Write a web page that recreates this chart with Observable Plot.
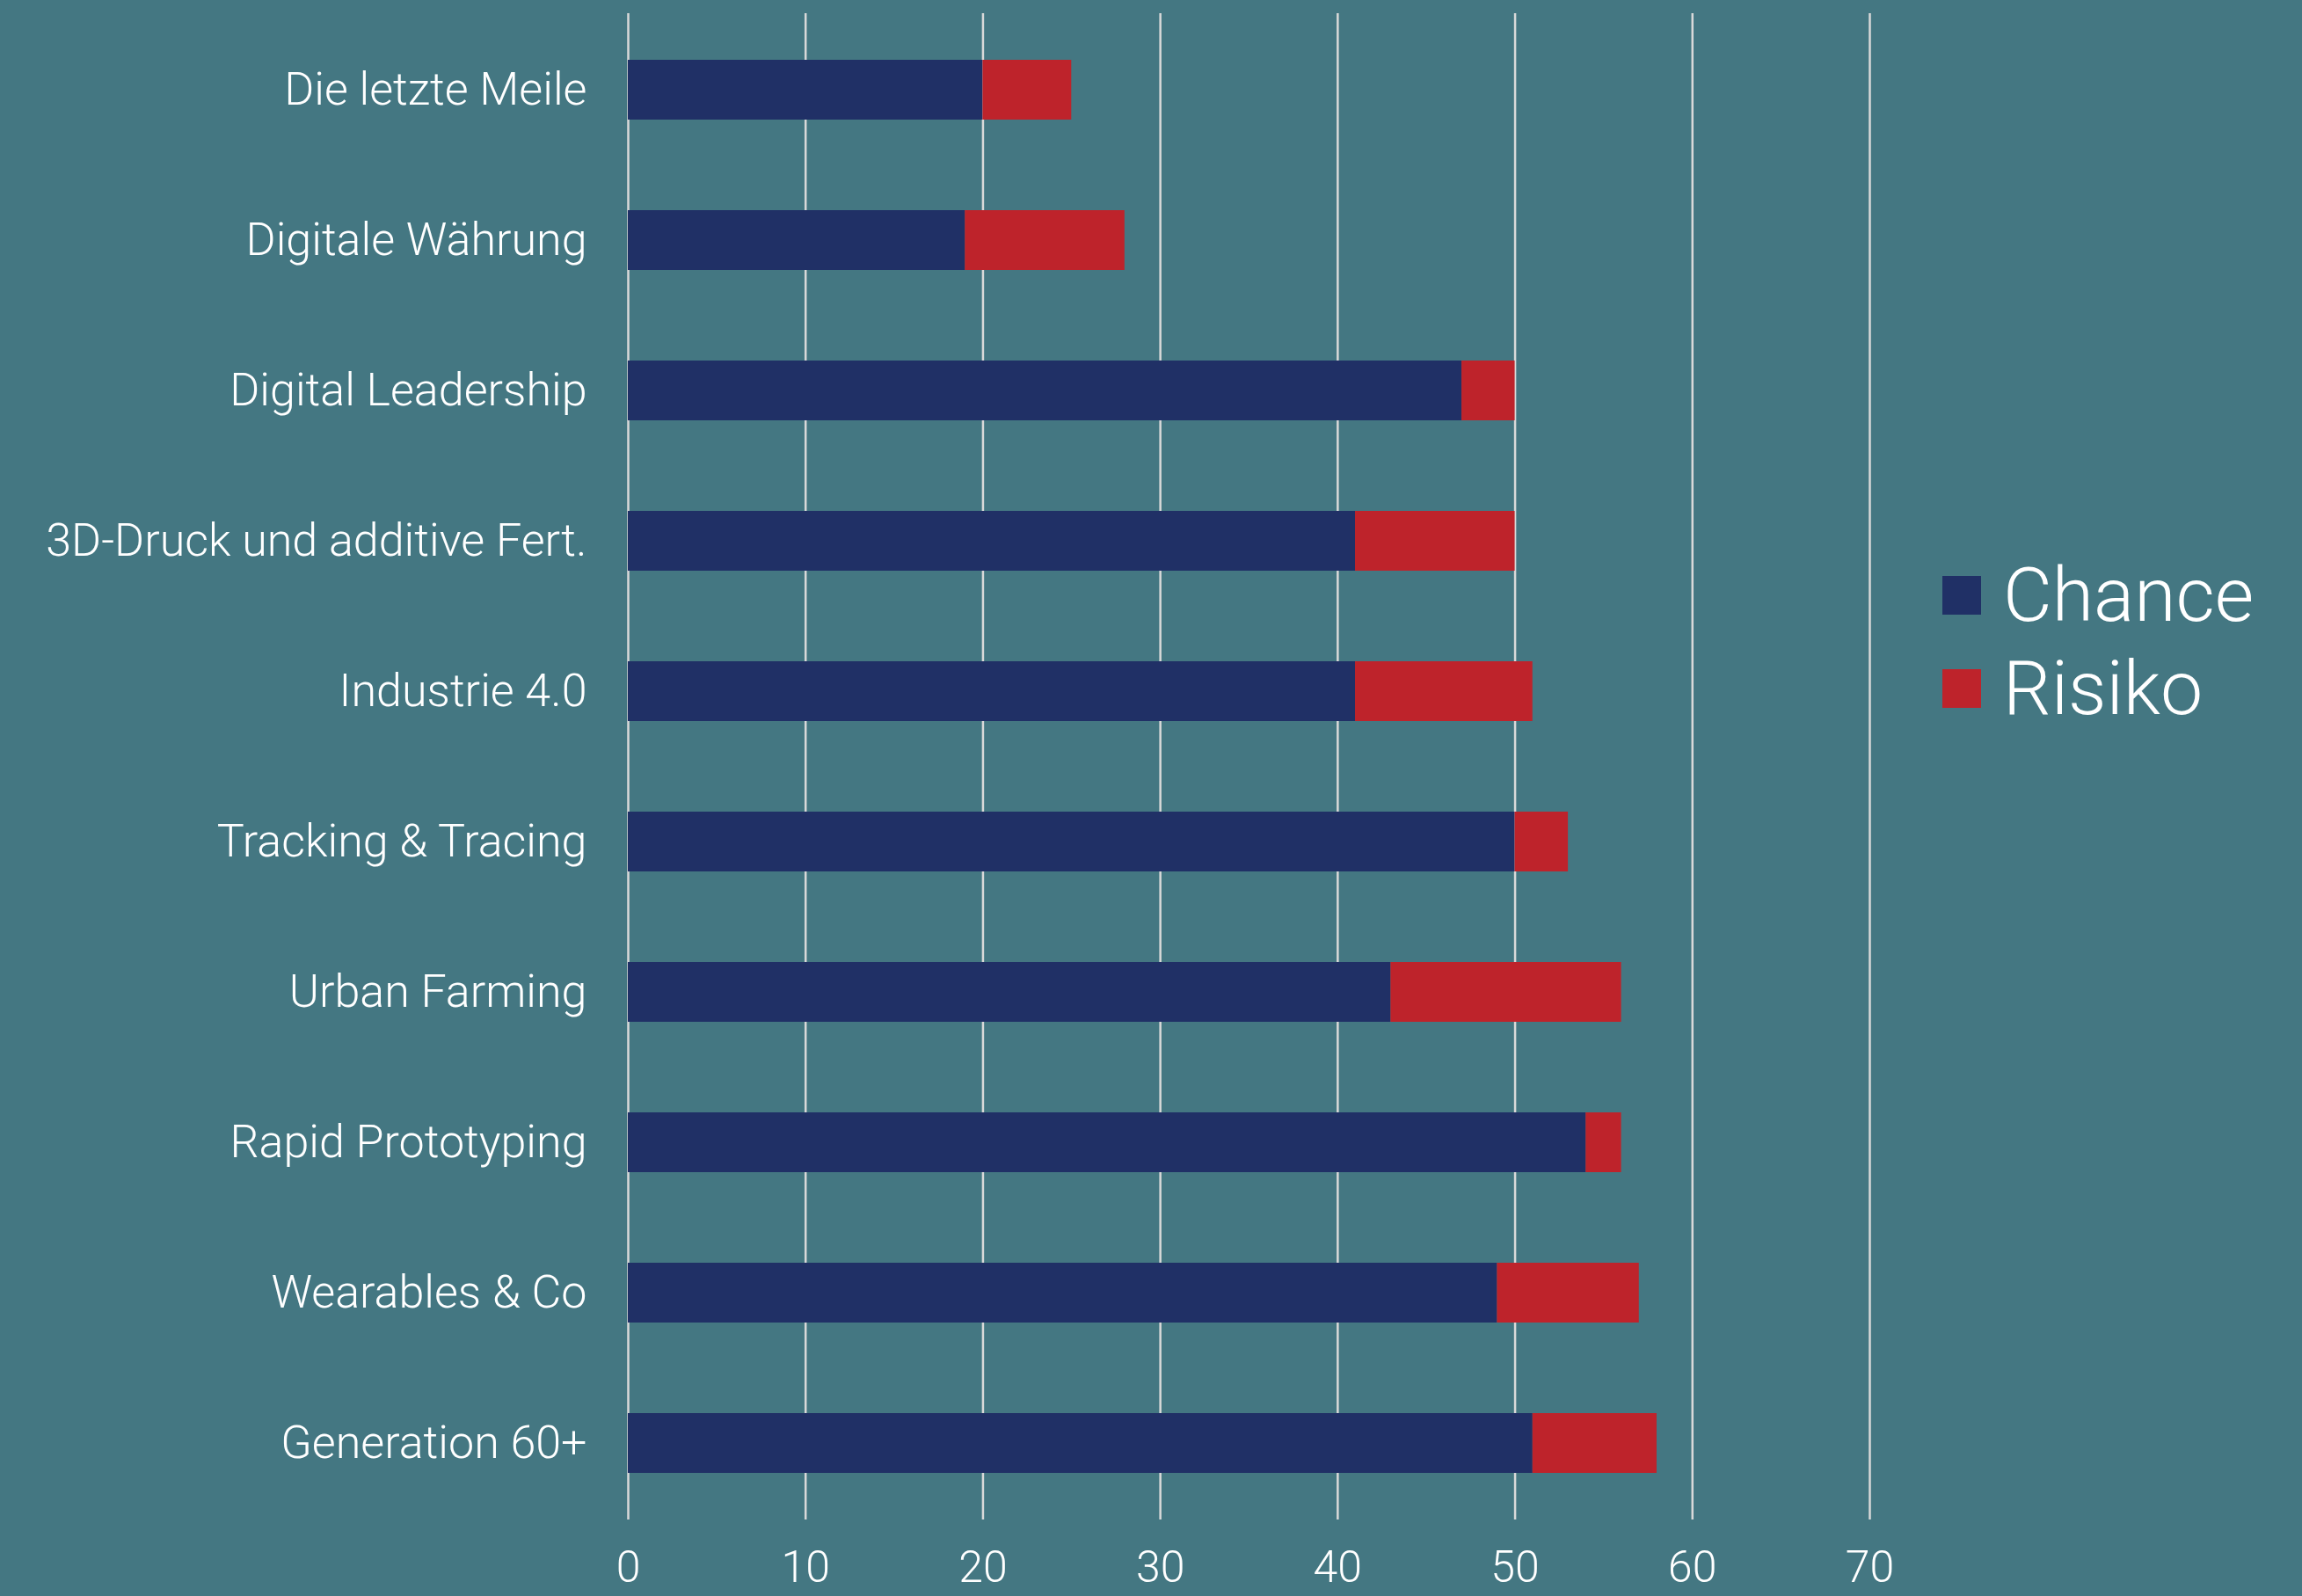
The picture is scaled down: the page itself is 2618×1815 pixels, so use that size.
<!DOCTYPE html>
<html>
<head>
<meta charset="utf-8">
<script src="https://cdn.jsdelivr.net/npm/d3@7"></script>
<script src="https://cdn.jsdelivr.net/npm/@observablehq/plot@0.6"></script>
<style>
  html, body { margin: 0; padding: 0; background: #447782; }
  #wrap { position: relative; width: 2618px; height: 1815px; overflow: hidden; }
  #legend { position: absolute; left: 2209px; top: 624px; font-family: Roboto, "Open Sans", sans-serif; font-weight: 300; color: #fff; }
  .row { display: flex; align-items: center; height: 106px; }
  .sw { width: 44px; height: 44px; margin-right: 25px; }
  .lab { font-size: 86px; line-height: 106px; }
</style>
</head>
<body>
<div id="wrap"></div>
<script>
const categories = ["Die letzte Meile", "Digitale Währung", "Digital Leadership", "3D-Druck und additive Fert.", "Industrie 4.0", "Tracking & Tracing", "Urban Farming", "Rapid Prototyping", "Wearables & Co", "Generation 60+"];
const chance = [20, 19, 47, 41, 41, 50, 43, 54, 49, 51];
const risiko = [5, 9, 3, 9, 10, 3, 13, 2, 8, 7];
const seriesNames = ["Chance", "Risiko"];
const seriesColors = ["#203066", "#be232b"];
const xTicks = [0, 10, 20, 30, 40, 50, 60, 70];

const data = [];
categories.forEach((c, i) => {
  data.push({cat: c, series: "Chance", value: chance[i]});
  data.push({cat: c, series: "Risiko", value: risiko[i]});
});

const chart = Plot.plot({
  width: 2618,
  height: 1815,
  marginLeft: 714,
  marginRight: 492,
  marginTop: 15,
  marginBottom: 87,
  style: {background: "#447782", color: "#ffffff", fontFamily: "Roboto, 'Open Sans', sans-serif", fontWeight: 300, fontSize: "52px"},
  x: {domain: [0, 70], ticks: xTicks, label: null},
  y: {domain: categories, paddingInner: 0.6, paddingOuter: 0.3, label: null},
  color: {domain: seriesNames, range: seriesColors},
  marks: [
    Plot.gridX(xTicks, {stroke: "#d9d9d9", strokeOpacity: 1, strokeWidth: 2.5}),
    Plot.barX(data, Plot.stackX({y: "cat", x: "value", fill: "series", order: seriesNames})),
    Plot.axisX({ticks: xTicks, tickSize: 0, tickPadding: 35, fontSize: 50, fill: "#ffffff", label: null}),
    Plot.axisY({tickSize: 0, tickPadding: 47, fontSize: 52, fill: "#ffffff", label: null})
  ]
});
document.getElementById("wrap").appendChild(chart);

const legend = document.createElement("div");
legend.id = "legend";
seriesNames.forEach((s, i) => {
  const row = document.createElement("div");
  row.className = "row";
  const sw = document.createElement("div");
  sw.className = "sw";
  sw.style.background = seriesColors[i];
  const lab = document.createElement("span");
  lab.className = "lab";
  lab.textContent = s;
  row.appendChild(sw);
  row.appendChild(lab);
  legend.appendChild(row);
});
document.getElementById("wrap").appendChild(legend);
</script>
</body>
</html>
